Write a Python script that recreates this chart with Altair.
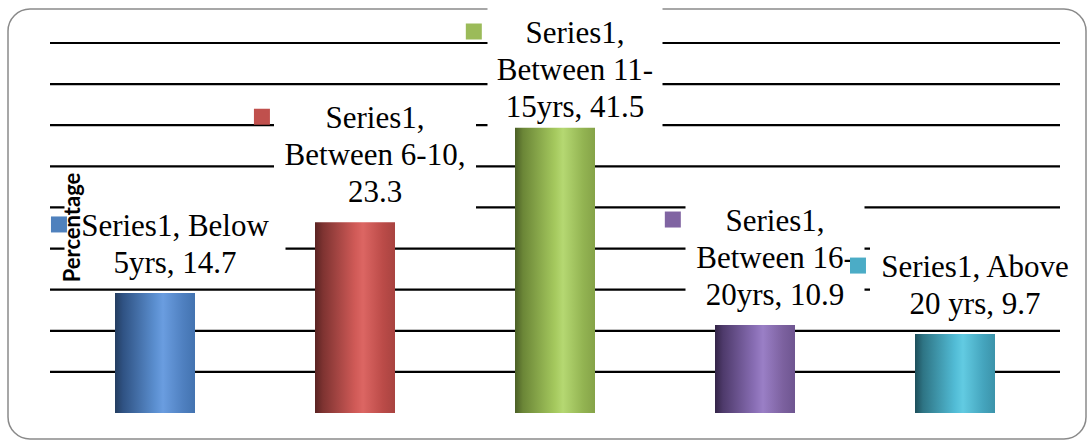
import altair as alt
import pandas as pd

# ---- data ----
categories = ["Below 5yrs", "Between 6-10", "Between 11-15yrs", "Between 16-20yrs", "Above 20 yrs"]
label_values = [14.7, 23.3, 41.5, 10.9, 9.7]          # values printed in the data labels
bar_heights = [14.6, 23.2, 34.7, 10.7, 9.6]           # bar tops as drawn against the gridlines
label_lines = [
    ["Series1, Below", "5yrs, 14.7"],
    ["Series1,", "Between 6-10,", "23.3"],
    ["Series1,", "Between 11-", "15yrs, 41.5"],
    ["Series1,", "Between 16-", "20yrs, 10.9"],
    ["Series1, Above", "20 yrs, 9.7"],
]
grid_values = [5, 10, 15, 20, 25, 30, 35, 40, 45]
key_colors = ["#4F81BD", "#C0504D", "#9BBB59", "#8064A2", "#4BACC6"]
y_title = "Percentage"

# ---- layout (style) ----
W, H = 1010, 370
TOP_PAD = 43
Y_MAX = 45
PPU = H / Y_MAX          # pixels per unit
PX_PER_CAT = W / 5
LINE_H = 37
MIN_LABEL_TOP = 8        # labels are kept inside the chart area (pixels from page top)
box_widths = [221, 202, 175, 179, 210]
marker_dx = [-97, -94, -82, -83, -98]

gradients = [
    ["#243d60", "#2f5283", "#5b8fd0", "#6a9de0", "#4f80c0", "#4373b0"],
    ["#5a2322", "#7e3331", "#d05a57", "#dc6663", "#bb4b48", "#a84340"],
    ["#4b5f26", "#6b8637", "#a5c95e", "#b5d872", "#93b452", "#85a348"],
    ["#332447", "#4e3a6b", "#8a6fb6", "#9a7fc6", "#7c619f", "#6e5590"],
    ["#1d4e5a", "#2e7484", "#52bcd6", "#62cbe2", "#45a5be", "#3b93aa"],
]
grad_offsets = [0, 0.1, 0.5, 0.6, 0.85, 1]

rows = []
for i, cat in enumerate(categories):
    n = len(label_lines[i])
    bh = bar_heights[i]
    box_h_px = n * LINE_H + 12
    # top of label box in page pixels; push down if it would leave the chart area
    top_px = TOP_PAD + H - bh * PPU - 6 - box_h_px
    shift = max(0.0, MIN_LABEL_TOP - top_px) / PPU
    base = bh - shift
    rows.append({
        "idx": i,
        "category": cat,
        "value": label_values[i],
        "bar_h": bh,
        "label": "\n".join(label_lines[i]),
        "text_y": base + ((n - 1) * LINE_H) / PPU,
        "box_bottom": base + 6 / PPU,
        "box_top": base + (6 + box_h_px) / PPU,
        "box_w": box_widths[i],
        "marker_x": i + marker_dx[i] / PX_PER_CAT,
        "marker_y": base + (31.5 + (n - 1) * LINE_H) / PPU,
        "mcolor": key_colors[i],
    })
df = pd.DataFrame(rows)
grid_df = pd.DataFrame({"g": grid_values})

xscale = alt.Scale(domain=[-0.5, 4.5], nice=False, zero=False)
yscale = alt.Scale(domain=[0, Y_MAX], nice=False, zero=True)

border = alt.Chart(pd.DataFrame({"a": [0]})).mark_rect(
    filled=False, stroke="#8a8a8a", strokeWidth=1.5, cornerRadius=22
).encode(
    x=alt.value(-42), x2=alt.value(1036), y=alt.value(-34), y2=alt.value(396)
)

rules = alt.Chart(grid_df).mark_rule(color="black", strokeWidth=2.2).encode(
    y=alt.Y("g:Q", scale=yscale, axis=None)
)

boxes = alt.Chart(df).mark_bar(color="white", xOffset=20).encode(
    x=alt.X("idx:Q", scale=xscale, axis=None),
    y=alt.Y("box_bottom:Q", scale=yscale, axis=None),
    y2="box_top:Q",
    size=alt.Size("box_w:Q", scale=None, legend=None),
)

bar_layers = []
for i in range(len(categories)):
    grad = {
        "gradient": "linear", "x1": 0, "x2": 1, "y1": 0, "y2": 0,
        "stops": [{"offset": o, "color": c} for o, c in zip(grad_offsets, gradients[i])],
    }
    b = alt.Chart(df).transform_filter(alt.datum.idx == i).mark_bar(size=80, color=grad).encode(
        x=alt.X("idx:Q", scale=xscale, axis=alt.Axis(
            title=None, labels=False, ticks=False, grid=False,
            domainColor="#8c8c8c", domainWidth=2.5)),
        y=alt.Y("bar_h:Q", scale=yscale, axis=None),
    )
    bar_layers.append(b)

texts = alt.Chart(df).mark_text(
    font="Liberation Serif", fontSize=31, lineHeight=LINE_H, lineBreak="\n",
    baseline="bottom", align="center", dx=20, dy=-13, color="black"
).encode(
    x=alt.X("idx:Q", scale=xscale, axis=None),
    y=alt.Y("text_y:Q", scale=yscale, axis=None),
    text="label:N",
)

markers = alt.Chart(df).mark_square(size=256, opacity=1, filled=True).encode(
    x=alt.X("marker_x:Q", scale=xscale, axis=None),
    y=alt.Y("marker_y:Q", scale=yscale, axis=None),
    color=alt.Color("mcolor:N", scale=None, legend=None),
)

title_mark = alt.Chart(pd.DataFrame({"t": [y_title]})).mark_text(
    angle=270, font="Lato", fontSize=22, fontWeight="bold",
    baseline="middle", align="center", color="black"
).encode(
    x=alt.value(22.5), y=alt.value(184.5), text="t:N"
)

chart = alt.layer(border, rules, boxes, *bar_layers, texts, markers, title_mark).properties(
    width=W, height=H,
    autosize=alt.AutoSizeParams(type="none"),
    padding={"left": 50, "top": TOP_PAD, "right": 30, "bottom": 30},
    background="white",
).configure_view(stroke=None)

chart.save("out.html", embed_options={"renderer": "svg", "actions": False})
